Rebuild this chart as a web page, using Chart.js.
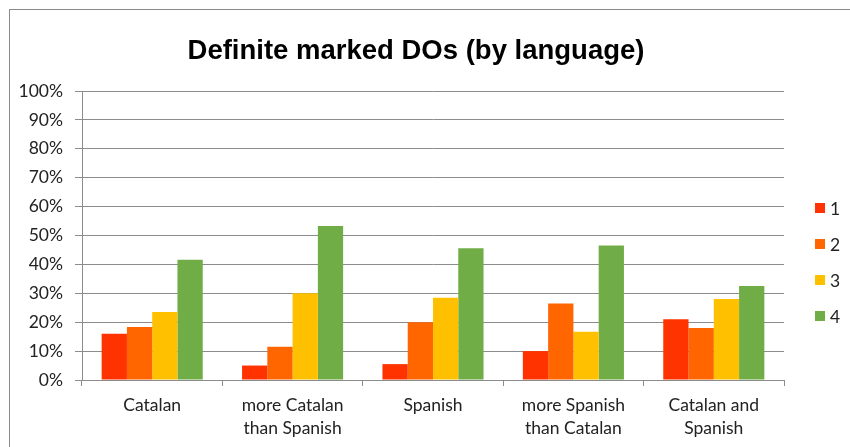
<!DOCTYPE html>
<html>
<head>
<meta charset="utf-8">
<script src="https://cdn.jsdelivr.net/npm/chart.js@4/dist/chart.umd.min.js"></script>
<style>
  html, body { margin: 0; padding: 0; background: #fff; }
  #wrap { width: 850px; height: 447px; }
</style>
</head>
<body>
<div id="wrap"><canvas id="chart" width="850" height="447"></canvas></div>
<script>
// categories and series (percent)
const categories = ['Catalan', ['more Catalan', 'than Spanish'], 'Spanish', ['more Spanish', 'than Catalan'], ['Catalan and', 'Spanish']];
const seriesNames = ['1', '2', '3', '4'];
const series1 = [16, 5, 5.5, 10, 21];
const series2 = [18.3, 11.5, 20, 26.5, 18];
const series3 = [23.5, 30, 28.5, 16.7, 28];
const series4 = [41.6, 53.3, 45.6, 46.5, 32.5];
const colors = ['#FF3300', '#FF6600', '#FFC000', '#70AD47'];
const yMax = 100;
const yStep = 10;

const tickFont = { family: 'Lato, "Open Sans", sans-serif', size: 17.5 };
const gridColor = '#8c8c8c';

// outer frame + right-hand legend; title box nudged so it centres at x=416
const frame = {
  id: 'frame',
  afterLayout(chart) {
    chart.titleBlock.left = 48;
  },
  beforeDraw(chart) {
    const ctx = chart.ctx;
    ctx.save();
    ctx.fillStyle = '#fff';
    ctx.fillRect(0, 0, chart.width, chart.height);
    ctx.strokeStyle = '#8a8a8a';
    ctx.lineWidth = 1;
    ctx.strokeRect(9.5, 9.5, 900, 900);
    ctx.restore();
  },
  afterDraw(chart) {
    const ctx = chart.ctx;
    ctx.save();
    ctx.font = tickFont.size + 'px ' + tickFont.family;
    ctx.textBaseline = 'middle';
    chart.data.datasets.forEach((ds, i) => {
      const cy = 208 + i * 36;
      ctx.fillStyle = ds.backgroundColor;
      ctx.fillRect(815, cy - 5, 10, 10);
      ctx.fillStyle = '#222';
      ctx.fillText(ds.label, 830, cy + 1);
    });
    ctx.restore();
  }
};

const data = [series1, series2, series3, series4];

new Chart(document.getElementById('chart'), {
  type: 'bar',
  data: {
    labels: categories,
    datasets: data.map((vals, i) => ({
      label: seriesNames[i],
      data: vals,
      backgroundColor: colors[i],
      borderWidth: 0,
      barPercentage: 1,
      categoryPercentage: 0.72
    }))
  },
  options: {
    responsive: false,
    animation: false,
    layout: { padding: { left: 10, right: 66, top: 0, bottom: 0 } },
    plugins: {
      legend: { display: false },
      tooltip: { enabled: false },
      title: {
        display: true,
        text: 'Definite marked DOs (by language)',
        color: '#000',
        font: { family: '"Liberation Sans", Arial, sans-serif', size: 27.5, weight: 'bold', lineHeight: 1.2 },
        padding: { top: 35, bottom: 23 }
      }
    },
    scales: {
      x: {
        grid: { display: true, drawOnChartArea: false, offset: true, color: gridColor, tickLength: 6 },
        border: { color: gridColor },
        ticks: { color: '#222', font: { ...tickFont, lineHeight: 1.3 }, padding: 8, maxRotation: 0, autoSkip: false },
        afterFit(scale) { scale.height = 67; }
      },
      y: {
        min: 0,
        max: yMax,
        grid: { color: gridColor, tickLength: 7 },
        border: { color: gridColor },
        ticks: { stepSize: yStep, color: '#222', font: tickFont, padding: 12, callback: v => v + '%' },
        afterFit(scale) { scale.width = 72; }
      }
    }
  },
  plugins: [frame]
});
</script>
</body>
</html>
